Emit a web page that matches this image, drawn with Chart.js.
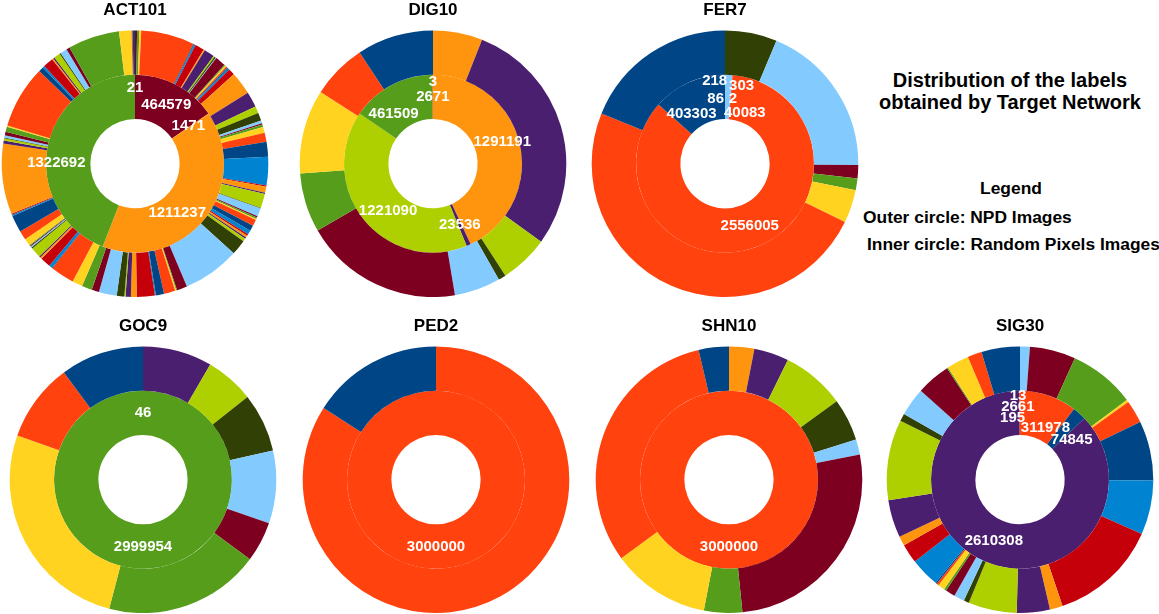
<!DOCTYPE html>
<html>
<head>
<meta charset="utf-8">
<title>Distribution of the labels obtained by Target Network</title>
<script src="https://cdn.jsdelivr.net/npm/chart.js@4.4.1/dist/chart.umd.min.js"></script>
<style>
  body {
    margin: 0;
    width: 1159px;
    height: 614px;
    position: relative;
    overflow: hidden;
    background: #fff;
    font-family: "Liberation Sans", Arial, sans-serif;
  }
  canvas.pie { position: absolute; }
  .note {
    position: absolute;
    font-weight: bold;
    color: #000;
    line-height: 1;
    white-space: nowrap;
  }
  .heading { font-size: 20px; width: 300px; text-align: center; }
  .legend { font-size: 17.4px; }
</style>
</head>
<body>

<canvas class="pie" id="act101" width="270" height="297" style="left:0px;top:0px"></canvas>
<canvas class="pie" id="dig10" width="270" height="297" style="left:298px;top:0px"></canvas>
<canvas class="pie" id="fer7" width="270" height="297" style="left:590px;top:0px"></canvas>
<canvas class="pie" id="goc9" width="270" height="297" style="left:8px;top:316px"></canvas>
<canvas class="pie" id="ped2" width="270" height="297" style="left:301px;top:316px"></canvas>
<canvas class="pie" id="shn10" width="270" height="297" style="left:594px;top:316px"></canvas>
<canvas class="pie" id="sig30" width="270" height="297" style="left:885px;top:316px"></canvas>

<div class="note heading" style="left:860px;top:70px">Distribution of the labels</div>
<div class="note heading" style="left:860px;top:91.5px">obtained by Target Network</div>
<div class="note legend" style="left:861px;top:180px;width:300px;text-align:center">Legend</div>
<div class="note legend" style="left:863px;top:208.5px">Outer circle: NPD Images</div>
<div class="note legend" style="left:867px;top:236px">Inner circle: Random Pixels Images</div>

<script>
// default office chart palette, class k gets colour k % 12
const palette = ["#004586", "#ff420e", "#ffd320", "#579d1c", "#7e0021", "#83caff",
                 "#314004", "#aecf00", "#4b1f6f", "#ff950e", "#c5000b", "#0084d1"];

/******************** NPD images: count per class (outer ring) ********************/
const act101Npd = [
  8300, 4200, 45000, 187500, 12500, 25000, 4200, 23300, 5000, 5000,
  37500, 6700, 18300, 228300, 5000, 18300, 12500, 8300, 3300, 8300,
  10800, 255800, 4200, 4200, 62500, 33300, 25000, 4200, 3300, 4200,
  5000, 37500, 5000, 6700, 37500, 11700, 2500, 86700, 37500, 37500,
  26700, 65000, 27500, 4200, 19200, 20800, 65800, 3300, 30000, 40800,
  4200, 3300, 37500, 206700, 55800, 10800, 5800, 7500, 5800, 15000,
  20000, 23300, 4200, 5800, 5000, 29200, 2500, 51700, 5000, 21700,
  4200, 103300, 54200, 33300, 20800, 10000, 4200, 10000, 29200, 25000,
  56700, 83300, 23300, 6700, 3300, 5000, 5000, 4200, 37500, 2500,
  5000, 5000, 37500, 5000, 33300, 5000, 3300, 194200, 6700, 8300,
  7500
];
const dig10Npd = [278300, 200800, 305800, 215800, 578300, 167500, 27500, 177500, 868300, 180000];
const fer7Npd = [565800, 1468300, 120000, 42500, 48300, 565800, 189200];
const goc9Npd = [303300, 285000, 789200, 566700, 146700, 265000, 214200, 177500, 252500];
const ped2Npd = [479200, 2520800];
const shn10Npd = [110000, 940800, 358300, 139200, 792500, 55800, 154200, 230800, 126700, 91700];
const sig30Npd = [
  140000, 51700, 80800, 4200, 124200, 103300, 27500, 292500, 136700, 35000,
  70000, 106700, 5000, 8300, 25000, 8300, 35000, 38300, 19200, 176700,
  120000, 46700, 395000, 197500, 215800, 84200, 8300, 241700, 166700, 35800
];

/******************** Random pixels images: classes hit and counts (inner ring) ********************/
const act101RandClasses = [0, 3, 21, 81, 100];
const act101RandCounts = [21, 1322692, 1211237, 1471, 464579];
const dig10RandClasses = [0, 1, 3, 7, 8, 9];
const dig10RandCounts = [3, 2671, 461509, 1221090, 23536, 1291191];
const fer7RandClasses = [0, 1, 2, 3, 4, 5, 6];
const fer7RandCounts = [403303, 2556005, 218, 86, 303, 40083, 2];
const goc9RandClasses = [0, 3];
const goc9RandCounts = [46, 2999954];
const ped2RandClasses = [1];
const ped2RandCounts = [3000000];
const shn10RandClasses = [1];
const shn10RandCounts = [3000000];
const sig30RandClasses = [0, 1, 2, 20, 24, 25];
const sig30RandCounts = [13, 2661, 195, 2610308, 74845, 311978];

// small label nudges (px) so crowded value labels don't sit on top of each other
const act101Shift = { 0: [0, -9], 3: [-13, 11], 21: [-10, 7], 81: [-2, 0] };
const dig10Shift = { 0: [0, -15], 3: [-8, 9], 7: [7, 5], 9: [4, -7] };
const fer7Shift = { 0: [-6, 11], 2: [-16, -16], 3: [-15, 2], 4: [11, -11], 5: [17, 16], 6: [8, 2] };
const goc9Shift = {};
const ped2Shift = {};
const shn10Shift = {};
const sig30Shift = { 0: [-2, -17], 1: [-2, -6], 2: [-7, 5], 24: [7, 10], 25: [4, 11] };

/******************** helpers ********************/
function expand(n, classes, counts) {
  const out = new Array(n).fill(0);
  classes.forEach((c, i) => { out[c] = counts[i]; });
  return out;
}

// writes the value of every non-empty inner slice on top of it
function valueLabels(order, shifts) {
  return {
    id: "valueLabels",
    afterDatasetsDraw(chart) {
      const meta = chart.getDatasetMeta(1);
      const values = chart.data.datasets[1].data;
      const ctx = chart.ctx;
      ctx.save();
      ctx.font = "bold 15px 'Liberation Sans', Arial, sans-serif";
      ctx.fillStyle = "#fff";
      ctx.textAlign = "center";
      ctx.textBaseline = "middle";
      meta.data.forEach((arc, i) => {
        if (!values[i]) return;
        const p = arc.tooltipPosition();
        const d = shifts[order[i]] || [0, 0];
        ctx.fillText(String(values[i]), p.x + d[0], p.y + d[1]);
      });
      ctx.restore();
    }
  };
}

function drawPie(canvasId, title, npd, randClasses, randCounts, shifts) {
  const n = npd.length;
  const rand = expand(n, randClasses, randCounts);
  // classes run counter-clockwise from 12 o'clock, chart.js goes clockwise
  const order = [...Array(n).keys()].reverse();
  const colours = order.map((k) => palette[k % palette.length]);

  new Chart(document.getElementById(canvasId), {
    type: "doughnut",
    data: {
      labels: order.map((k) => "Class " + k),
      datasets: [
        { label: "NPD Images", data: order.map((k) => npd[k]), backgroundColor: colours, borderWidth: 0 },
        { label: "Random Pixels Images", data: order.map((k) => rand[k]), backgroundColor: colours, borderWidth: 0 },
      ],
    },
    options: {
      responsive: false,
      animation: false,
      events: [],
      cutout: "33.5%",
      plugins: {
        legend: { display: false },
        tooltip: { enabled: false },
        title: {
          display: true,
          text: title,
          color: "#000",
          font: { family: "'Liberation Sans', Arial, sans-serif", size: 17, weight: "bold" },
          padding: { top: 0, bottom: 10 },
        },
      },
    },
    plugins: [valueLabels(order, shifts)],
  });
}

drawPie("act101", "ACT101", act101Npd, act101RandClasses, act101RandCounts, act101Shift);
drawPie("dig10", "DIG10", dig10Npd, dig10RandClasses, dig10RandCounts, dig10Shift);
drawPie("fer7", "FER7", fer7Npd, fer7RandClasses, fer7RandCounts, fer7Shift);
drawPie("goc9", "GOC9", goc9Npd, goc9RandClasses, goc9RandCounts, goc9Shift);
drawPie("ped2", "PED2", ped2Npd, ped2RandClasses, ped2RandCounts, ped2Shift);
drawPie("shn10", "SHN10", shn10Npd, shn10RandClasses, shn10RandCounts, shn10Shift);
drawPie("sig30", "SIG30", sig30Npd, sig30RandClasses, sig30RandCounts, sig30Shift);
</script>
</body>
</html>
